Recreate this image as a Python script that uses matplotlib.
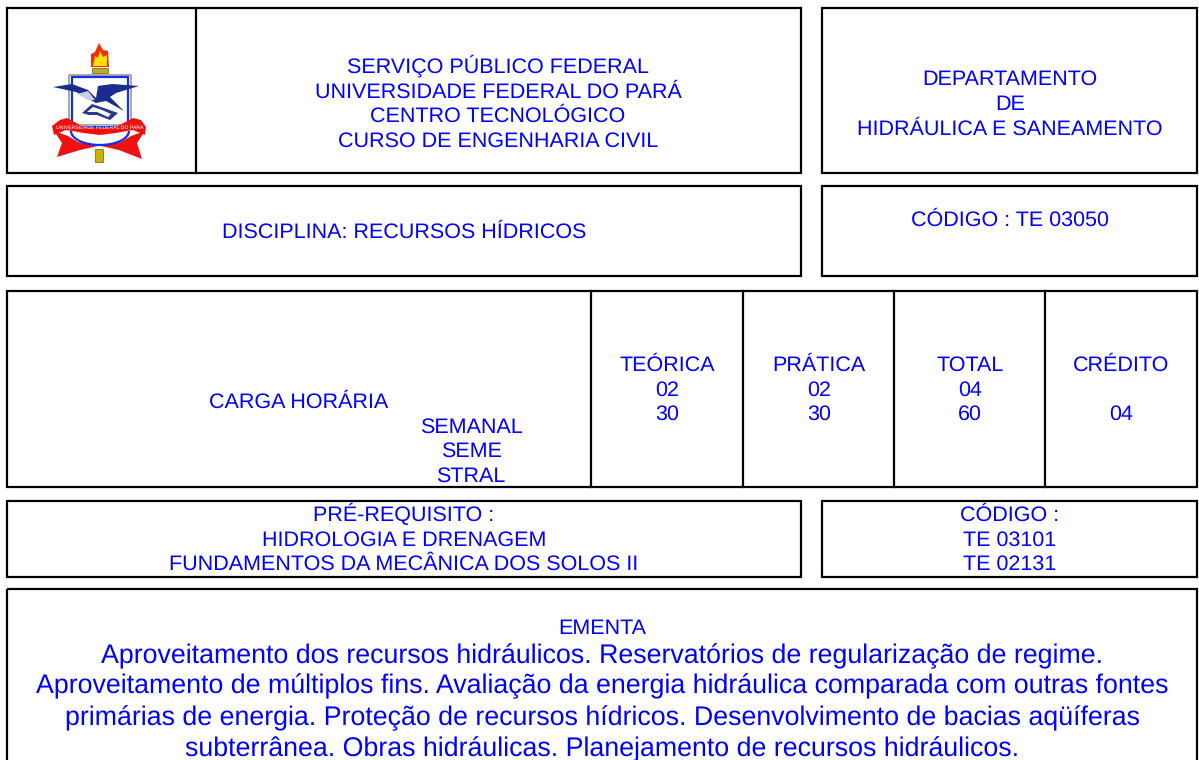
import matplotlib
matplotlib.use('Agg')
import matplotlib.pyplot as plt
from matplotlib.patches import Rectangle, Polygon, Arc

plt.rcParams['text.hinting'] = 'no_hinting'
plt.rcParams['text.hinting_factor'] = 8

W, H = 1199, 760
BLUE = '#0000ff'

# x0, y0, x1, y1 in image pixels
boxes = [(7, 8, 801, 173), (822, 8, 1197, 173), (7, 186, 801, 276), (822, 186, 1197, 276),
         (7, 291, 1197, 487), (7, 501, 801, 577), (822, 501, 1197, 577), (7, 589, 1197, 775)]
dividers = [(196, 8, 173), (591, 291, 487), (743, 291, 487), (894, 291, 487), (1045, 291, 487)]

# x centre, baseline y, text
small_text = [
    (498, 73, 'SERVIÇO PÚBLICO FEDERAL'), (498, 98, 'UNIVERSIDADE FEDERAL DO PARÁ'),
    (498, 122, 'CENTRO TECNOLÓGICO'), (498, 147, 'CURSO DE ENGENHARIA CIVIL'),
    (1010, 85, 'DEPARTAMENTO'), (1010, 110, 'DE'), (1010, 135, 'HIDRÁULICA E SANEAMENTO'),
    (404, 238, 'DISCIPLINA: RECURSOS HÍDRICOS'), (1010, 226, 'CÓDIGO : TE 03050'),
    (299, 408, 'CARGA HORÁRIA'), (471, 433, 'SEMANAL'), (471, 457, 'SEME'), (471, 482, 'STRAL'),
    (667, 371, 'TEÓRICA'), (667, 396, '02'), (667, 420, '30'),
    (819, 371, 'PRÁTICA'), (819, 396, '02'), (819, 420, '30'),
    (970, 371, 'TOTAL'), (970, 396, '04'), (970, 420, '60'),
    (1121, 371, 'CRÉDITO'), (1121, 420, '04'),
    (404, 521, 'PRÉ-REQUISITO :'), (404, 546, 'HIDROLOGIA E DRENAGEM'),
    (404, 570, 'FUNDAMENTOS DA MECÂNICA DOS SOLOS II'),
    (1010, 521, 'CÓDIGO :'), (1010, 546, 'TE 03101'), (1010, 570, 'TE 02131'),
    (602, 634, 'EMENTA'),
]
ementa_lines = [
    'Aproveitamento dos recursos hidráulicos. Reservatórios de regularização de regime.',
    'Aproveitamento de múltiplos fins. Avaliação da energia hidráulica comparada com outras fontes',
    'primárias de energia. Proteção de recursos hídricos. Desenvolvimento de bacias aqüíferas',
    'subterrânea. Obras hidráulicas. Planejamento de recursos hidráulicos.',
]
ementa_y = [663, 693, 725, 756]

fig = plt.figure(figsize=(W / 100, H / 100), dpi=100)
ax = fig.add_axes([0, 0, 1, 1])
ax.set_xlim(0, W)
ax.set_ylim(H, 0)
ax.axis('off')
plt.rcParams['font.family'] = ['Liberation Sans', 'DejaVu Sans']

for x0, y0, x1, y1 in boxes:
    ax.add_patch(Rectangle((x0, y0), x1 - x0, y1 - y0, fill=False, ec='black', lw=1.6))
for x, y0, y1 in dividers:
    ax.plot([x, x], [y0, y1], color='black', lw=1.6)

for x, y, s in small_text:
    ax.text(x, y, s, color=BLUE, fontsize=15.47, ha='center', va='baseline')
for y, s in zip(ementa_y, ementa_lines):
    ax.text(602, y, s, color=BLUE, fontsize=19.22, ha='center', va='baseline')

# coat of arms
ax.add_patch(Polygon([(91, 67), (91, 54), (95, 52), (99, 43), (103, 50), (108, 51), (109, 67)], fc='#f03000', ec='none'))
ax.add_patch(Polygon([(93, 66), (95, 56), (98, 58), (100, 51), (103, 57), (107, 55), (107, 66)], fc='#ffe000', ec='none'))
ax.add_patch(Rectangle((92, 68), 16, 5, fc='#c0a820', ec='#706000', lw=0.5))
ax.add_patch(Rectangle((69, 75), 62, 50, fc='white', ec='#999999', lw=1.2))
ax.add_patch(Rectangle((72, 77), 56, 50, fill=False, ec='#1030f0', lw=1.6))
ax.add_patch(Polygon([(53, 87), (72, 84), (88, 90), (96, 98), (98, 86), (112, 84), (139, 86), (116, 93), (110, 97), (124, 111), (106, 101), (96, 103), (84, 96), (76, 92)], fc='#1a2c90', ec='none'))
ax.add_patch(Polygon([(77, 94), (88, 91), (95, 100), (88, 100)], fc='#c8d0e8', ec='none'))
ax.add_patch(Polygon([(82, 113), (92, 104), (104, 108), (118, 113), (110, 120), (97, 115), (89, 115)], fc='#28388f', ec='none'))
ax.add_patch(Polygon([(87, 112), (93, 107), (102, 110), (111, 114), (108, 117), (97, 112)], fc='white', ec='none'))
# ribbon tails, blue arc, then the band with its lettering
ax.add_patch(Polygon([(54, 131), (68, 136), (78, 142), (98, 146), (80, 150), (57, 157), (62, 143)], fc='#ee1111', ec='none'))
ax.add_patch(Polygon([(145, 131), (131, 136), (121, 142), (101, 146), (119, 150), (142, 159), (137, 143)], fc='#ee1111', ec='none'))
ax.add_patch(Arc((100, 131), 58, 28, theta1=0, theta2=180, ec='#1030f0', lw=1.6))
ax.add_patch(Polygon([(52, 126), (60, 120), (67, 118), (84, 127), (100, 128), (116, 127), (133, 118), (141, 120), (146, 127), (145, 135), (133, 130), (116, 133), (100, 135), (84, 133), (66, 130), (54, 135)], fc='#ee1111', ec='none'))
ax.text(99.5, 127.5, 'UNIVERSIDADE FEDERAL DO PARÁ', color='white', fontsize=3.7, ha='center', va='center')
ax.add_patch(Rectangle((95, 149), 8, 13, fc='#c8b400', ec='#706000', lw=0.5))

fig.savefig('out.png', dpi=100)
